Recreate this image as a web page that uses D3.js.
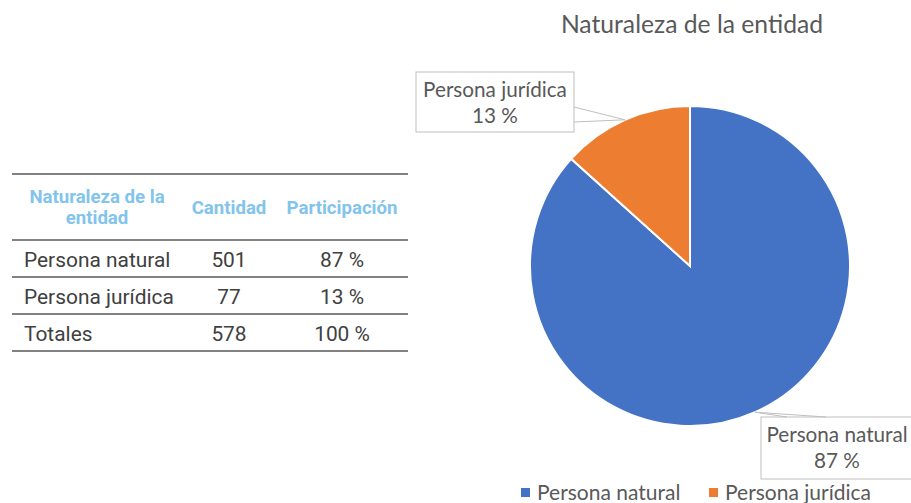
<!DOCTYPE html>
<html>
<head>
<meta charset="utf-8">
<script src="https://cdn.jsdelivr.net/npm/d3@7"></script>
<style>
  body { margin: 0; background: #fff; }
  svg { display: block; }
</style>
</head>
<body>
<div id="chart"></div>
<script>
// data
var categories = ["Persona natural", "Persona jurídica"];
var counts = [501, 77];
var shares = ["87 %", "13 %"];
var totalLabel = "Totales";
var totalCount = 578;
var totalShare = "100 %";
var headers = [["Naturaleza de la", "entidad"], ["Cantidad"], ["Participación"]];
var chartTitle = "Naturaleza de la entidad";

var colors = ["#4472C4", "#ED7D31"];

var svg = d3.select("#chart")
  .append("svg")
    .attr("width", 911)
    .attr("height", 503);

// ---- table ----
var tbl = svg.append("g");
var tableFont = "Roboto, 'Liberation Sans', sans-serif";
var colX = [24, 229, 342];
var lineYs = [174, 240, 277, 314, 351];

lineYs.forEach(function(y) {
  tbl.append("line")
    .attr("x1", 12).attr("x2", 408)
    .attr("y1", y).attr("y2", y)
    .style("stroke", "#595959")
    .style("stroke-width", 1.5);
});

// header
var headerCenters = [97, 229, 342];
headers.forEach(function(h, i) {
  var t = tbl.append("text")
    .attr("x", headerCenters[i])
    .attr("y", h.length > 1 ? 203 : 214)
    .attr("text-anchor", "middle")
    .style("font-family", tableFont)
    .style("font-weight", "bold")
    .style("font-size", "18.6px")
    .style("fill", "#82C4EC");
  h.forEach(function(line, j) {
    t.append("tspan")
      .attr("x", headerCenters[i])
      .attr("dy", j === 0 ? 0 : 21)
      .text(line);
  });
});

var rows = categories.map(function(c, i) {
  return [c, counts[i], shares[i]];
});
rows.push([totalLabel, totalCount, totalShare]);

rows.forEach(function(r, i) {
  var y = 267 + i * 37;
  r.forEach(function(v, j) {
    tbl.append("text")
      .attr("x", colX[j])
      .attr("y", y)
      .attr("text-anchor", j === 0 ? "start" : "middle")
      .style("font-family", tableFont)
      .style("font-size", "20.9px")
      .style("fill", "#404040")
      .text(v);
  });
});

// ---- pie ----
var cx = 690, cy = 266, radius = 160;
var labelFont = "Lato, 'Open Sans', sans-serif";

svg.append("text")
  .attr("x", 692)
  .attr("y", 33)
  .attr("text-anchor", "middle")
  .style("font-family", labelFont)
  .style("font-size", "24.7px")
  .style("fill", "#595959")
  .text(chartTitle);

var pie = d3.pie().sort(null).value(function(d) { return d; });
var arcs = pie(counts);
var arc = d3.arc().innerRadius(0).outerRadius(radius);

var pg = svg.append("g").attr("transform", "translate(" + cx + "," + cy + ")");
pg.selectAll("path")
  .data(arcs)
  .enter()
  .append("path")
    .attr("d", arc)
    .style("fill", function(d, i) { return colors[i]; })
    .style("stroke", "white")
    .style("stroke-width", 2);

// callout labels (box layout positions)
var boxes = [
  {x: 761, y: 417, w: 152, h: 62, side: "top", b1: 787, b2: 826},
  {x: 416, y: 72, w: 158, h: 60, side: "right", b1: 107, b2: 122}
];

arcs.forEach(function(d, i) {
  var b = boxes[i];
  var a = (d.startAngle + d.endAngle) / 2;
  var px = cx + Math.sin(a) * radius;
  var py = cy - Math.cos(a) * radius;
  var g = svg.append("g");
  g.append("rect")
    .attr("x", b.x).attr("y", b.y)
    .attr("width", b.w).attr("height", b.h)
    .style("fill", "white")
    .style("stroke", "#BFBFBF")
    .style("stroke-width", 1);
  var pts;
  if (b.side === "top") {
    pts = [[b.b1, b.y], [px, py], [b.b2, b.y]];
  } else {
    pts = [[b.x + b.w, b.b1], [px, py], [b.x + b.w, b.b2]];
  }
  g.append("polyline")
    .attr("points", pts.map(function(p) { return p.join(","); }).join(" "))
    .style("fill", "none")
    .style("stroke", "#BFBFBF")
    .style("stroke-width", 1);
  var tx = b.x + b.w / 2;
  g.append("text")
    .attr("x", tx).attr("y", b.y + 25)
    .attr("text-anchor", "middle")
    .style("font-family", labelFont)
    .style("font-size", "20.7px")
    .style("fill", "#595959")
    .text(categories[i]);
  g.append("text")
    .attr("x", tx).attr("y", b.y + 51)
    .attr("text-anchor", "middle")
    .style("font-family", labelFont)
    .style("font-size", "20.7px")
    .style("fill", "#595959")
    .text(shares[i]);
});

// legend
var legendX = [521, 709];
categories.forEach(function(c, i) {
  var lg = svg.append("g");
  lg.append("rect")
    .attr("x", legendX[i]).attr("y", 488)
    .attr("width", 9).attr("height", 9)
    .style("fill", colors[i]);
  lg.append("text")
    .attr("x", legendX[i] + 16).attr("y", 500)
    .style("font-family", labelFont)
    .style("font-size", "21px")
    .style("fill", "#595959")
    .text(c);
});
</script>
</body>
</html>
